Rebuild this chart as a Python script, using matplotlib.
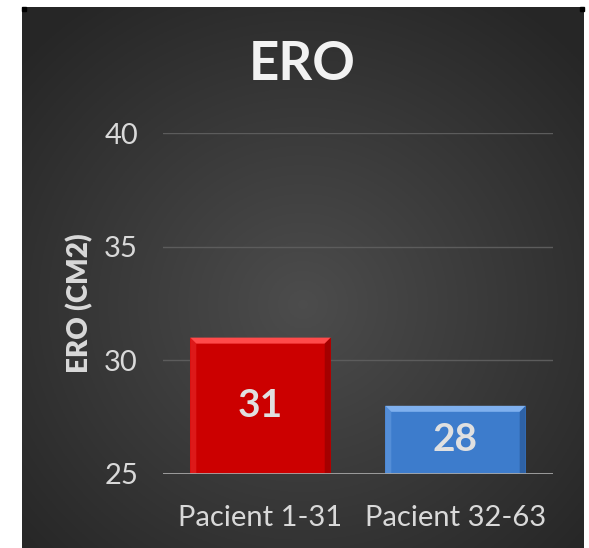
import numpy as np
import matplotlib.pyplot as plt
from matplotlib.patches import Polygon

plt.rcParams['font.family'] = ['Lato', 'DejaVu Sans']

categories = ["Pacient 1-31", "Pacient 32-63"]
values = [31, 28]
bar_colors = ["#cc0000", "#3d7ccc"]
light_colors = ["#ff4a4a", "#7fb0ee"]
dark_colors = ["#8a0000", "#24528e"]
y_ticks = [25, 30, 35, 40]

fig = plt.figure(figsize=(5.89, 5.48), dpi=100, facecolor="white")

# dark radial background panel
bg = fig.add_axes([22 / 589, 0, 562 / 589, 541 / 548])
bg.set_axis_off()
yy, xx = np.mgrid[0:1:300j, 0:1:300j]
r = np.sqrt((xx - 0.5) ** 2 + ((yy - 0.45) * 1.0) ** 2)
shade = np.clip(0.30 - 0.22 * r, 0.15, 0.30)
bg.imshow(np.dstack([shade] * 3), extent=[0, 1, 0, 1], aspect="auto", origin="lower")
bg.set_xlim(0, 1)
bg.set_ylim(0, 1)
# small corner marks
fig.patches.append(plt.Rectangle((22 / 589, 537 / 548), 4 / 589, 4 / 548,
                                 transform=fig.transFigure, color="black"))
fig.patches.append(plt.Rectangle((580 / 589, 537 / 548), 4 / 589, 4 / 548,
                                 transform=fig.transFigure, color="black"))

ax = fig.add_axes([163 / 589, 1 - 474 / 548, 390 / 589, 341 / 548])
ax.patch.set_alpha(0)
x = np.arange(len(categories))
width = 0.72
ax.set_xlim(-0.5, len(categories) - 0.5)
ax.set_ylim(25, 40)

for yt in y_ticks[1:]:
    ax.axhline(yt, color="#5c5c5c", lw=1, zorder=0)

bars = ax.bar(x, [v - 25 for v in values], width, bottom=25, color=bar_colors,
              edgecolor="none", zorder=2)

# bevel effect
bx = 6 / 195
by = 6 / 22.7
for b, lc, dc in zip(bars, light_colors, dark_colors):
    x0, y0 = b.get_x(), b.get_y()
    x1, y1 = x0 + b.get_width(), y0 + b.get_height()
    ax.add_patch(Polygon([(x0, y1), (x1, y1), (x1 - bx, y1 - by), (x0 + bx, y1 - by)],
                         color=lc, zorder=3, lw=0))
    ax.add_patch(Polygon([(x0, y0), (x0, y1), (x0 + bx, y1 - by), (x0 + bx, y0)],
                         color=lc, alpha=0.35, zorder=3, lw=0))
    ax.add_patch(Polygon([(x1, y0), (x1, y1), (x1 - bx, y1 - by), (x1 - bx, y0)],
                         color=dc, alpha=0.6, zorder=3, lw=0))
    ax.text(b.get_x() + b.get_width() / 2, (y0 + y1) / 2, str(int(y1)),
            ha="center", va="center", color="#e0e0e0", fontsize=28,
            fontweight="bold", zorder=4)

ax.axhline(25, color="#a6a6a6", lw=2, zorder=5)
for s in ax.spines.values():
    s.set_visible(False)
ax.set_yticks(y_ticks)
ax.set_xticks(x)
ax.set_xticklabels(categories)
ax.tick_params(length=0, colors="#d9d9d9", labelsize=21)
ax.tick_params(axis="y", pad=18)
ax.tick_params(axis="x", pad=22)
ax.set_ylabel("ERO (CM2)", color="#d9d9d9", fontsize=20, fontweight="heavy", labelpad=8)

fig.text(302 / 589, 1 - 64 / 548, "ERO", ha="center", va="center", color="#f2f2f2",
         fontsize=38, fontweight="bold")

fig.savefig("out.png", dpi=100, facecolor="white")
